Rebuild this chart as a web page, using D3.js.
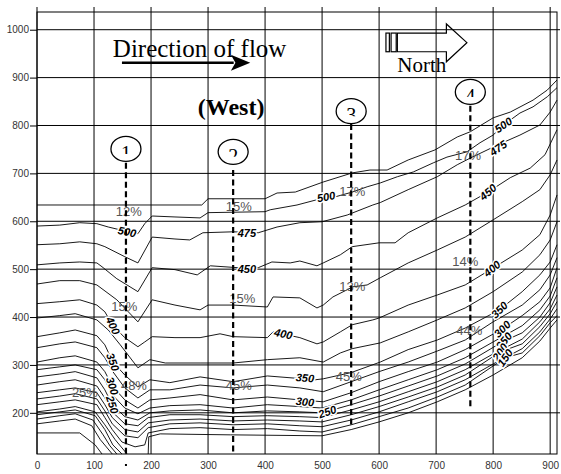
<!DOCTYPE html>
<html><head><meta charset="utf-8">
<script src="https://cdn.jsdelivr.net/npm/d3@7"></script>
<style>body{margin:0;background:#fff}</style>
</head><body>
<script>
// ---------- data ----------
const xTicks = [0,100,200,300,400,500,600,700,800,900];
const yTicks = [200,300,400,500,600,700,800,900,1000];
const xDomain = [0, 912];
const yDomain = [114, 1037];

const line525 = [[0,634],[289,634],[300,647],[400,647],[421,659],[453,661],[502,682],[553,701],[584,707],[614,707],[651,728],[698,749],[737,776],[760,787],[800,816],[830,828],[870,853],[895,874],[912,895]];
const line500 = [[0,590],[40,592],[75,597],[105,595],[125,588],[146,582],[177,574],[189,595],[202,611],[242,609],[286,607],[300,618],[400,620],[409,624],[456,634],[491,645],[523,651],[553,661],[579,672],[602,680],[632,693],[660,703],[695,722],[719,734],[754,745],[777,764],[800,780],[818,801],[847,826],[870,839],[895,860],[912,879]];
const line475 = [[0,551],[40,553],[75,557],[105,553],[119,547],[154,526],[177,513],[202,567],[242,563],[268,561],[291,576],[344,578],[388,576],[421,588],[461,597],[500,599],[544,613],[589,634],[602,639],[651,666],[702,693],[737,718],[760,732],[809,760],[847,780],[882,801],[900,828],[912,853]];
const line450 = [[0,509],[40,513],[75,515],[105,513],[114,505],[140,480],[177,453],[202,503],[242,499],[281,488],[304,507],[353,503],[388,503],[412,515],[444,513],[461,517],[491,507],[502,513],[532,530],[553,547],[600,555],[628,555],[651,576],[702,607],[751,634],[791,661],[830,691],[865,711],[891,739],[912,791]];
const line425 = [[0,469],[40,476],[75,476],[105,467],[140,436],[177,390],[202,436],[242,425],[286,415],[300,425],[344,425],[404,421],[414,442],[461,440],[491,419],[502,425],[519,442],[544,457],[553,463],[579,467],[602,482],[651,513],[702,540],[751,567],[800,603],[851,641],[882,666],[900,697],[912,728]];
const line400 = [[0,428],[40,432],[75,436],[105,425],[119,411],[133,382],[154,357],[177,338],[189,348],[202,359],[242,357],[286,357],[321,365],[344,359],[404,357],[414,369],[461,357],[491,344],[502,348],[532,369],[553,384],[589,394],[600,398],[651,425],[702,446],[751,467],[798,501],[851,540],[882,572],[900,613],[912,655]];
const line375 = [[0,398],[40,403],[67,407],[105,394],[125,373],[146,342],[177,294],[198,311],[225,304],[286,304],[344,304],[404,311],[461,315],[502,306],[532,325],[553,334],[602,346],[651,369],[702,394],[751,419],[800,453],[851,494],[882,530],[900,561],[912,599]];
const line350 = [[0,359],[40,367],[67,373],[105,361],[119,342],[133,306],[154,279],[177,254],[198,269],[233,263],[286,275],[344,265],[404,277],[488,269],[502,271],[551,284],[602,306],[651,332],[702,352],[751,377],[811,415],[851,453],[882,488],[900,515],[912,551]];
const line325 = [[0,336],[40,344],[67,348],[105,336],[119,315],[133,286],[154,252],[177,231],[198,248],[233,248],[286,258],[344,252],[404,258],[461,252],[502,244],[551,265],[600,286],[651,306],[702,329],[751,352],[800,390],[851,425],[882,457],[900,488],[912,524]];
const line300 = [[0,306],[40,315],[67,319],[105,306],[119,286],[132,256],[154,227],[177,210],[198,227],[233,231],[286,238],[344,227],[404,233],[461,227],[502,223],[551,242],[600,265],[651,286],[702,306],[751,332],[816,375],[851,403],[882,432],[900,461],[912,503]];
const line275 = [[0,290],[40,296],[67,300],[105,290],[119,269],[132,238],[154,210],[177,198],[198,210],[233,215],[286,217],[344,210],[404,217],[461,213],[500,210],[551,227],[600,248],[651,269],[702,290],[751,315],[800,348],[851,382],[882,415],[900,444],[912,482]];
const line250 = [[0,275],[40,281],[67,286],[105,273],[119,248],[132,217],[154,192],[177,185],[198,200],[233,204],[286,206],[344,200],[404,204],[461,202],[500,200],[551,217],[600,235],[651,256],[702,277],[751,302],[819,350],[851,367],[882,400],[900,430],[912,463]];
const line225 = [[0,258],[40,265],[67,269],[105,256],[119,231],[132,202],[154,177],[177,173],[195,190],[233,196],[286,196],[344,192],[404,194],[461,192],[500,190],[551,206],[600,223],[651,244],[702,265],[751,290],[800,323],[851,354],[882,390],[900,417],[912,446]];
const line200 = [[0,242],[40,248],[67,252],[105,242],[119,217],[132,190],[154,165],[177,160],[195,179],[233,185],[286,187],[344,183],[404,185],[461,183],[500,181],[551,196],[600,213],[651,233],[702,254],[751,279],[812,327],[851,344],[882,380],[900,407],[912,432]];
const line175 = [[0,229],[40,235],[67,240],[105,229],[119,204],[132,177],[154,152],[177,148],[195,169],[233,177],[286,179],[344,175],[404,177],[461,173],[500,171],[551,185],[600,202],[651,223],[702,244],[751,269],[800,302],[851,334],[882,369],[900,396],[912,417]];
const line150 = [[0,217],[40,223],[67,227],[105,217],[119,190],[132,165],[149,139],[172,129],[189,133],[195,158],[233,167],[286,169],[344,165],[404,167],[461,162],[500,160],[551,175],[600,192],[651,210],[702,233],[751,258],[821,315],[851,325],[882,361],[900,388],[912,403]];
const lineBottom = [[195,114],[196,150],[216,156],[339,154],[500,152],[551,165],[600,181],[651,200],[702,223],[751,248],[800,279],[851,315],[882,350],[900,377],[912,394]];
const lineLeft1 = [[0,202],[40,208],[67,213],[102,202],[119,175],[137,144],[158,114]];
const lineLeft2 = [[0,196],[40,202],[67,206],[102,194],[119,165],[133,133],[149,114]];
const lineLeft3 = [[0,187],[40,194],[67,198],[98,185],[116,154],[128,131],[140,114]];
const lineLeft4 = [[0,177],[40,183],[67,187],[96,173],[111,144],[132,114]];
const lineLeft5 = [[0,158],[75,158],[102,133],[114,114]];

const contourLines = [line525,line500,line475,line450,line425,line400,line375,line350,line325,line300,line275,line250,line225,line200,line175,line150,lineBottom,lineLeft1,lineLeft2,lineLeft3,lineLeft4,lineLeft5];

// contour labels: text, x, y, rotation
const contourLabelText = ["500","400","350","300","250","475","450","500","400","350","300","250","500","475","450","400","350","300","250","200","150"];
const contourLabelX    = [158,133,133,132,132,368,368,507,432,470,470,509,818,809,791,798,811,816,819,812,821];
const contourLabelY    = [578,382,306,256,217,576,501,651,365,273,223,202,801,753,661,501,415,375,350,327,315];
const contourLabelRot  = [12,65,70,72,72,0,0,-10,12,5,5,-20,-35,-35,-40,-40,-45,-45,-50,-55,-55];

// percentage labels
const pctText = ["12%","15%","17%","17%","15%","15%","13%","14%","25%","48%","45%","45%","44%"];
const pctX    = [161,354,553,756,153,360,553,751,84,170,354,547,758];
const pctY    = [620,630,663,737,423,438,463,517,242,258,258,275,371];

// section markers
const sectionNames = ["1","2","3","4"];
const sectionX     = [156,344,551,760];
const sectionCircleY = [751,745,830,870];
const sectionTop   = [722,707,803,841];
const sectionBottom= [114,114,175,210];

// ---------- drawing ----------
const W = 561, H = 474;
const svg = d3.select("body").append("svg").attr("width", W).attr("height", H)
  .style("font-family","'Liberation Sans', Arial, sans-serif");
const x = d3.scaleLinear().domain(xDomain).range([37, 557]);
const y = d3.scaleLinear().domain(yDomain).range([454, 12]);

// grid
svg.append("g").selectAll("line").data(xTicks).join("line")
  .attr("x1", d => x(d)).attr("x2", d => x(d))
  .attr("y1", y(yDomain[1]) - 5).attr("y2", y(yDomain[0]))
  .attr("stroke", "#000").attr("stroke-width", 1);
svg.append("g").selectAll("line").data(yTicks).join("line")
  .attr("x1", x(0)).attr("x2", x(xDomain[1]) + 3)
  .attr("y1", d => y(d)).attr("y2", d => y(d))
  .attr("stroke", "#000").attr("stroke-width", 1);

// frame
svg.append("rect").attr("x", x(0)).attr("y", y(yDomain[1]))
  .attr("width", x(xDomain[1]) - x(0)).attr("height", y(yDomain[0]) - y(yDomain[1]))
  .attr("fill", "none").attr("stroke", "#000").attr("stroke-width", 1);

// axes
const yAxis = svg.append("g").attr("transform", `translate(${x(0)},0)`)
  .call(d3.axisLeft(y).tickValues(yTicks).tickFormat(d3.format("d")).tickSize(7).tickPadding(1));
yAxis.select(".domain").remove();
yAxis.selectAll("text").attr("font-size", 10).attr("fill", "#333").attr("font-family","'Liberation Sans', Arial, sans-serif");
const xAxis = svg.append("g").attr("transform", `translate(0,${y(yDomain[0])})`)
  .call(d3.axisBottom(x).tickValues(xTicks).tickFormat(d3.format("d")).tickSize(0).tickPadding(8));
xAxis.select(".domain").remove();
xAxis.selectAll("text").attr("font-size", 10).attr("fill", "#333").attr("font-family","'Liberation Sans', Arial, sans-serif");

// contour lines
const lineGen = d3.line().x(d => x(d[0])).y(d => y(d[1]));
svg.append("g").selectAll("path").data(contourLines).join("path")
  .attr("d", lineGen).attr("fill", "none").attr("stroke", "#000").attr("stroke-width", 0.9);

// contour labels
svg.append("g").selectAll("text").data(contourLabelText).join("text")
  .attr("transform", (d, i) => `translate(${x(contourLabelX[i])},${y(contourLabelY[i])}) rotate(${contourLabelRot[i]})`)
  .attr("text-anchor", "middle").attr("dy", "0.35em")
  .attr("font-size", 11).attr("font-weight", "bold").attr("font-style","italic")
  .attr("stroke", "#fff").attr("stroke-width", 3).attr("paint-order", "stroke")
  .attr("fill", "#000").text(d => d);

// percentage labels
svg.append("g").selectAll("text").data(pctText).join("text")
  .attr("x", (d, i) => x(pctX[i])).attr("y", (d, i) => y(pctY[i]))
  .attr("text-anchor", "middle").attr("dy", "0.35em")
  .attr("font-size", 13).attr("fill", "#555").text(d => d);

// section dashed lines
svg.append("g").selectAll("line").data(sectionNames).join("line")
  .attr("x1", (d, i) => x(sectionX[i])).attr("x2", (d, i) => x(sectionX[i]))
  .attr("y1", (d, i) => y(sectionTop[i])).attr("y2", (d, i) => y(sectionBottom[i]))
  .attr("stroke", "#000").attr("stroke-width", 2.2).attr("stroke-dasharray", "6,3.5");
svg.append("rect").attr("x", x(sectionX[0]) - 1).attr("y", y(yDomain[0]) + 10).attr("width", 2).attr("height", 2).attr("fill", "#000");

// section circles
const defs = svg.append("defs");
sectionNames.forEach((s, i) => {
  const cx = x(sectionX[i]), cy = y(sectionCircleY[i]);
  defs.append("clipPath").attr("id", "clip" + i).append("rect")
    .attr("x", cx - 15).attr("y", cy - 13).attr("width", 30).attr("height", 18);
  svg.append("ellipse").attr("cx", cx).attr("cy", cy).attr("rx", 15).attr("ry", 12.5)
    .attr("fill", "#fff").attr("stroke", "#000").attr("stroke-width", 1.3);
  svg.append("text").attr("x", cx).attr("y", cy + 11).attr("text-anchor", "middle")
    .attr("font-family", "'Liberation Serif', 'Times New Roman', serif").attr("font-size", 20)
    .attr("clip-path", `url(#clip${i})`).text(s);
});

// titles
svg.append("text").attr("x", x(133)).attr("y", y(943))
  .attr("font-family", "'Liberation Serif', 'Times New Roman', serif").attr("font-size", 25)
  .text("Direction of flow");
svg.append("line").attr("x1", x(149)).attr("x2", x(345)).attr("y1", y(931)).attr("y2", y(931))
  .attr("stroke", "#000").attr("stroke-width", 2.5);
svg.append("path")
  .attr("d", `M${x(374)},${y(931)} L${x(340)},${y(931)-8} L${x(348)},${y(931)} L${x(340)},${y(931)+8} Z`)
  .attr("fill", "#000");
svg.append("text").attr("x", x(282)).attr("y", y(822))
  .attr("font-family", "'Liberation Serif', 'Times New Roman', serif").attr("font-size", 24).attr("font-weight", "bold")
  .text("(West)");
svg.append("text").attr("x", x(632)).attr("y", y(912))
  .attr("font-family", "'Liberation Serif', 'Times New Roman', serif").attr("font-size", 21)
  .text("North");

// North arrow (hollow striped)
const ax = [612, 618, 621, 630, 632, 718, 754];
const ayTop = 993, ayBot = 954, ayHeadTop = 1012, ayHeadBot = 933, ayMid = 973;
svg.append("rect").attr("x", x(ax[0])).attr("y", y(ayTop)).attr("width", x(ax[1]) - x(ax[0])).attr("height", y(ayBot) - y(ayTop))
  .attr("fill", "#fff").attr("stroke", "#000").attr("stroke-width", 1.2);
svg.append("rect").attr("x", x(ax[2])).attr("y", y(ayTop)).attr("width", x(ax[3]) - x(ax[2])).attr("height", y(ayBot) - y(ayTop))
  .attr("fill", "#fff").attr("stroke", "#000").attr("stroke-width", 1.2);
svg.append("path")
  .attr("d", `M${x(ax[4])},${y(ayTop)} L${x(ax[5])},${y(ayTop)} L${x(ax[5])},${y(ayHeadTop)} L${x(ax[6])},${y(ayMid)} L${x(ax[5])},${y(ayHeadBot)} L${x(ax[5])},${y(ayBot)} L${x(ax[4])},${y(ayBot)} Z`)
  .attr("fill", "none").attr("stroke", "#000").attr("stroke-width", 1.2);
</script>
</body></html>
